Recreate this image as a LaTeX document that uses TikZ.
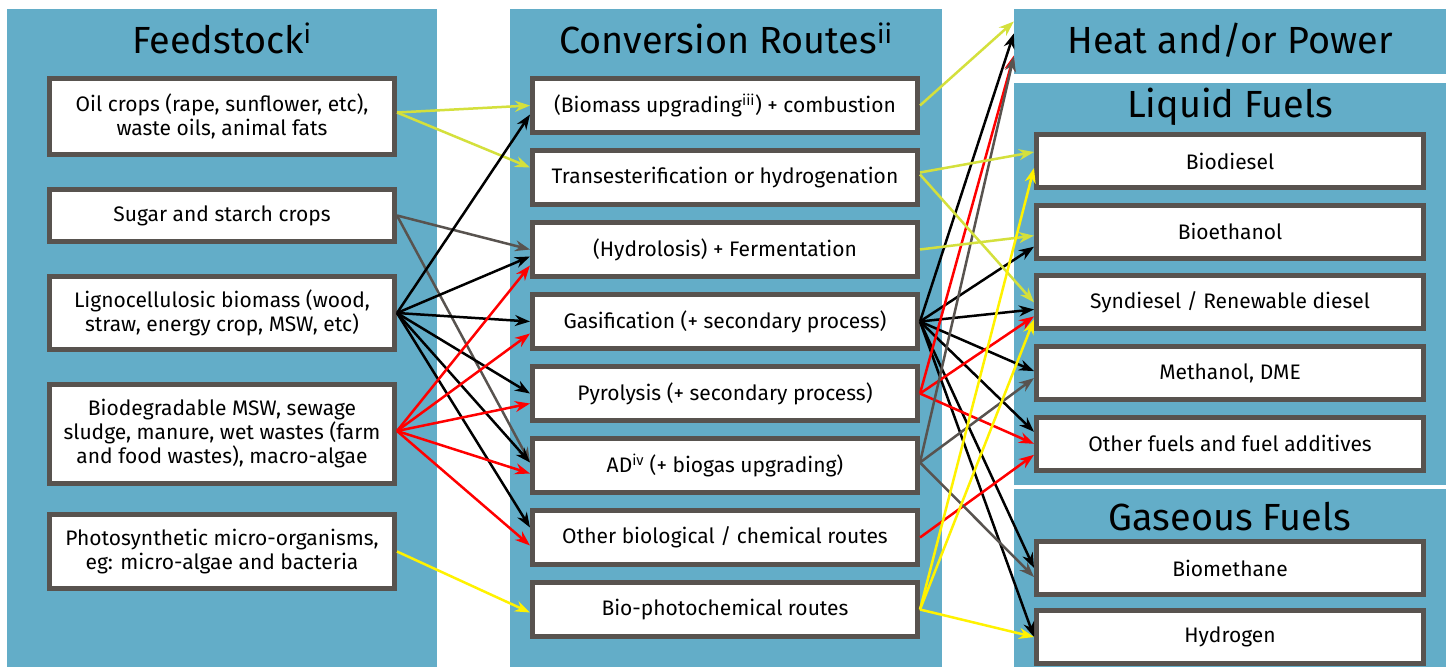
\documentclass[tikz,border=0pt]{standalone}
\usepackage{fontspec}
\setmainfont{Fira Sans}
\usepackage{tikz}
\usetikzlibrary{positioning, arrows.meta}
\definecolor{panelblue}{RGB}{99,173,200}
\definecolor{boxgray}{RGB}{88,83,79}
\definecolor{oilgreen}{RGB}{212,224,60}
\definecolor{sunyellow}{RGB}{255,242,0}

\begin{document}
\begin{tikzpicture}[
        x=1pt, y=-1pt,
        node distance=30pt,
        panel/.style={rectangle, fill=panelblue, inner sep=0pt, minimum width=432pt},
        title/.style={anchor=base, font=\fontsize{37.8}{42}\selectfont},
        box/.style={rectangle, draw=boxgray, fill=white, line width=5pt, align=center, font=\fontsize{21}{24}\selectfont},
        feed/.style={box, minimum width=345pt},
        route/.style={box, minimum width=385pt, minimum height=54pt},
        fuel/.style={box, minimum width=387pt, minimum height=53pt},
        arrow/.style={->, >={Stealth[length=15pt, width=11pt]}, line width=2.5pt}
    ]
    \useasboundingbox[fill=white] (0,0) rectangle (1449,667);
%
    % Panels
    \node[panel, minimum width=430pt, minimum height=658pt] (feedpanel) at (222,338) {};
    \node[panel, minimum height=658pt] (convpanel) at (726,338) {};
    \node[panel, minimum height=65pt] (heat) at (1230,41.5) {};
    \node[panel, minimum height=402pt] (liquidpanel) at (1230,284) {};
    \node[panel, minimum height=178pt] (gaspanel) at (1230,578) {};
%
    \node[title] (feedtitle) at (222,53) {Feedstock\textsuperscript{i}};
    \node[title] (convtitle) at (726,53) {Conversion Routes\textsuperscript{ii}};
    \node[title] (heattitle) at (1230,53) {Heat and/or Power};
    \node[title] (liquidtitle) at (1230,117) {Liquid Fuels};
    \node[title] (gastitle) at (1230,530) {Gaseous Fuels};
%
    % Feedstock
    \node[feed, minimum height=76pt] (oil) at (222,116.5) {Oil crops (rape, sunflower, etc),\\waste oils, animal fats};
    \node[feed, minimum height=52pt, below=of oil] (sugar) {Sugar and starch crops};
    \node[feed, minimum height=73pt, below=of sugar] (ligno) {Lignocellulosic biomass (wood,\\straw, energy crop, MSW, etc)};
    \node[feed, minimum height=99pt, below=of ligno] (biodeg) {Biodegradable MSW, sewage\\sludge, manure, wet wastes (farm\\and food wastes), macro-algae};
    \node[feed, minimum height=74pt, below=26pt of biodeg] (photo) {Photosynthetic micro-organisms,\\eg: micro-algae and bacteria};
%
    % Conversion routes
    \node[route] (upgrade) at (725,105.5) {(Biomass upgrading\textsuperscript{iii}) + combustion};
    \node[route, below=13pt of upgrade] (transest) {Transesterification or hydrogenation};
    \node[route, below=13pt of transest] (hydro) {(Hydrolosis) + Fermentation};
    \node[route, below=13pt of hydro] (gasif) {Gasification (+ secondary process)};
    \node[route, below=13pt of gasif] (pyro) {Pyrolysis (+ secondary process)};
    \node[route, below=13pt of pyro] (ad) {AD\textsuperscript{iv} (+ biogas upgrading)};
    \node[route, below=13pt of ad] (otherroute) {Other biological / chemical routes};
    \node[route, below=13pt of otherroute] (photochem) {Bio-photochemical routes};
%
    % Fuels
    \node[fuel] (biodiesel) at (1230,161) {Biodiesel};
    \node[fuel, below=12.7pt of biodiesel] (bioethanol) {Bioethanol};
    \node[fuel, below=12.7pt of bioethanol] (syndiesel) {Syndiesel / Renewable diesel};
    \node[fuel, below=12.7pt of syndiesel] (methanol) {Methanol, DME};
    \node[fuel, below=12.7pt of methanol] (otherfuel) {Other fuels and fuel additives};
    \node[fuel] (biomethane) at (1230,568) {Biomethane};
    \node[fuel, below=11pt of biomethane] (hydrogen) {Hydrogen};
%
    % Feedstock -> routes
    \draw[arrow, oilgreen] ([yshift=4pt]oil.east) -- (upgrade.west);
    \draw[arrow, oilgreen] ([yshift=4pt]oil.east) -- ([yshift=10pt]transest.west);
    \draw[arrow, boxgray] (sugar.east) -- (hydro.west);
    \draw[arrow, boxgray] (sugar.east) -- ([yshift=3pt]ad.west);
    \draw[arrow] (ligno.east) -- ([yshift=-9pt]upgrade.west);
    \draw[arrow] (ligno.east) -- ([yshift=-7pt]hydro.west);
    \draw[arrow] (ligno.east) -- (gasif.west);
    \draw[arrow] (ligno.east) -- (pyro.west);
    \draw[arrow] (ligno.east) -- ([yshift=3pt]ad.west);
    \draw[arrow] (ligno.east) -- ([yshift=10pt]otherroute.west);
    \draw[arrow, red] ([yshift=3pt]biodeg.east) -- ([yshift=-16pt]hydro.west);
    \draw[arrow, red] ([yshift=3pt]biodeg.east) -- ([yshift=-12pt]gasif.west);
    \draw[arrow, red] ([yshift=3pt]biodeg.east) -- ([yshift=-10pt]pyro.west);
    \draw[arrow, red] ([yshift=3pt]biodeg.east) -- ([yshift=-8pt]ad.west);
    \draw[arrow, red] ([yshift=3pt]biodeg.east) -- ([yshift=-8pt]otherroute.west);
    \draw[arrow, sunyellow] (photo.east) -- ([yshift=-3pt]photochem.west);
%
    % Routes -> products
    \draw[arrow] (gasif.east) -- ([yshift=8pt]heat.west);
    \draw[arrow] (gasif.east) -- ([yshift=-15pt]bioethanol.west);
    \draw[arrow] (gasif.east) -- ([yshift=-7pt]syndiesel.west);
    \draw[arrow] (gasif.east) -- ([yshift=2pt]methanol.west);
    \draw[arrow] (gasif.east) -- ([yshift=12pt]otherfuel.west);
    \draw[arrow] (gasif.east) -- (biomethane.west);
    \draw[arrow] (gasif.east) -- (hydrogen.west);
    \draw[arrow, red] (pyro.east) -- ([yshift=-14pt]heat.west);
    \draw[arrow, red] (pyro.east) -- ([yshift=-14pt]syndiesel.west);
    \draw[arrow, red] (pyro.east) -- (otherfuel.west);
    \draw[arrow, red] (otherroute.east) -- ([yshift=-11pt]otherfuel.west);
    \draw[arrow, boxgray] ([yshift=3pt]ad.east) -- ([yshift=-15pt]heat.west);
    \draw[arrow, boxgray] ([yshift=3pt]ad.east) -- ([yshift=-5pt]methanol.west);
    \draw[arrow, boxgray] ([yshift=3pt]ad.east) -- ([yshift=-9pt]biomethane.west);
    \draw[arrow, oilgreen] (upgrade.east) -- ([yshift=20pt]heat.west);
    \draw[arrow, oilgreen] ([yshift=5pt]transest.east) -- ([yshift=9pt]biodiesel.west);
    \draw[arrow, oilgreen] ([yshift=3pt]transest.east) -- (syndiesel.west);
    \draw[arrow, oilgreen] (hydro.east) -- ([yshift=-4pt]bioethanol.west);
    \draw[arrow, sunyellow] (photochem.east) -- ([yshift=-7pt]biodiesel.west);
    \draw[arrow, sunyellow] (photochem.east) -- ([yshift=-17pt]syndiesel.west);
    \draw[arrow, sunyellow] (photochem.east) -- (hydrogen.west);
%
\end{tikzpicture}
\end{document}
